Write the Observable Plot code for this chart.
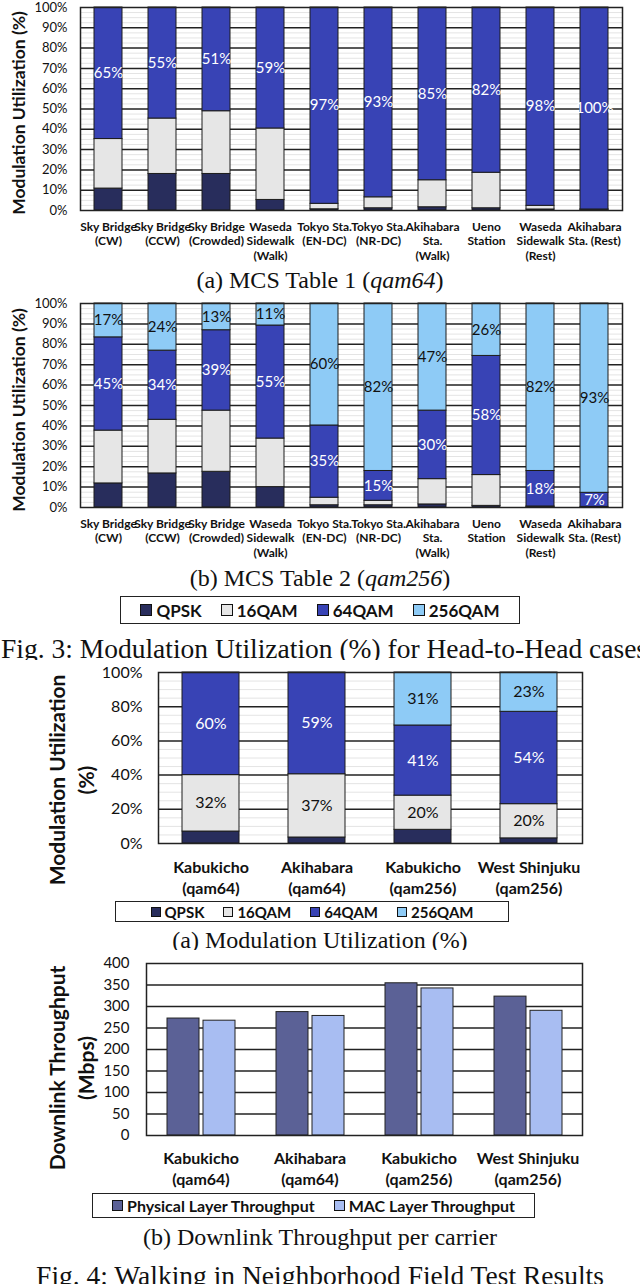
<!DOCTYPE html>
<html><head><meta charset="utf-8">
<script src="https://cdn.jsdelivr.net/npm/d3@7"></script>
<script src="https://cdn.jsdelivr.net/npm/@observablehq/plot@0.6"></script>
<style>
body{margin:0;background:#fff;}
#page{position:relative;width:640px;height:1284px;overflow:hidden;background:#fff;}
.cap{position:absolute;left:0;width:640px;text-align:center;font-family:"Liberation Serif","Times New Roman",serif;font-size:24px;line-height:24px;white-space:nowrap;color:#111;}
.fig{font-size:27.5px;line-height:27.5px;}
.ylab{position:absolute;font-family:Lato,sans-serif;font-weight:bold;color:#111;white-space:nowrap;text-align:center;transform:translate(-50%,-50%) rotate(-90deg);}
.legend{position:absolute;border:1.5px solid #222;display:flex;align-items:center;justify-content:center;font-family:Lato,sans-serif;font-weight:bold;box-sizing:border-box;color:#111;background:#fff;}
.legend .item{display:flex;align-items:center;}
.legend .sw{border:1px solid #111;box-sizing:border-box;margin-right:4px;}
</style></head>
<body><div id="page"></div>
<script>
// ---------- data ----------
const mods = ["QPSK", "16QAM", "64QAM", "256QAM"];
const modColors = ["#282d5c", "#e6e6e6", "#3843b5", "#8ecbf6"];

const sites = ["Sky Bridge\n(CW)", "Sky Bridge\n(CCW)", "Sky Bridge\n(Crowded)", "Waseda\nSidewalk\n(Walk)",
  "Tokyo Sta.\n(EN-DC)", "Tokyo Sta.\n(NR-DC)", "Akihabara\nSta.\n(Walk)", "Ueno\nStation",
  "Waseda\nSidewalk\n(Rest)", "Akihabara\nSta. (Rest)"];

// (a) MCS Table 1 (qam64)
const t1QPSK  = [10.8, 18, 18, 5.2, 0.6, 1.1, 1.6, 1.1, 0.5, 0.4];
const t1QAM16 = [24.4, 27.3, 30.9, 35.2, 2.7, 5.4, 13.3, 17.5, 1.8, 0.1];
const t1QAM64 = [64.8, 54.7, 51.1, 59.6, 96.7, 93.5, 85.1, 81.4, 97.7, 99.5];
const t1Label64 = ["65%", "55%", "51%", "59%", "97%", "93%", "85%", "82%", "98%", "100%"];

// (b) MCS Table 2 (qam256)
const t2QPSK   = [11.8, 16.7, 17.5, 10, 1.1, 1.1, 1.5, 0.8, 0.3, 0.3];
const t2QAM16  = [25.9, 26.3, 30, 23.8, 3.7, 2.2, 12.4, 15.1, 0.2, 0];
const t2QAM64  = [45.7, 33.9, 39.4, 55.4, 35.4, 14.6, 33.6, 58.4, 17.4, 6.9];
const t2QAM256 = [16.6, 23.1, 13.1, 10.8, 59.8, 82.1, 52.5, 25.7, 82.1, 92.8];
const t2Label64  = ["45%", "34%", "39%", "55%", "35%", "15%", "30%", "58%", "18%", "7%"];
const t2Label256 = ["17%", "24%", "13%", "11%", "60%", "82%", "47%", "26%", "82%", "93%"];

// Fig. 4 walking
const walkSites = ["Kabukicho\n(qam64)", "Akihabara\n(qam64)", "Kabukicho\n(qam256)", "West Shinjuku\n(qam256)"];
const wQPSK   = [7, 3.5, 8, 3];
const wQAM16  = [33, 37, 20, 20];
const wQAM64  = [60, 59.5, 41, 54];
const wQAM256 = [0, 0, 31, 23];
const wLabel16  = ["32%", "37%", "20%", "20%"];
const wLabel64  = ["60%", "59%", "41%", "54%"];
const wLabel256 = [null, null, "31%", "23%"];

const tputSeries = ["Physical Layer Throughput", "MAC Layer Throughput"];
const tputColors = ["#5b6196", "#a8bdf2"];
const physTput = [272, 287, 354, 323];
const macTput  = [267, 278, 342, 290];

// ---------- helpers ----------
const page = document.getElementById("page");
function place(el, top) { el.style.position = "absolute"; el.style.left = "0px"; el.style.top = top + "px"; page.appendChild(el); }
function div(cls, html, css) { const d = document.createElement("div"); d.className = cls; d.innerHTML = html; Object.assign(d.style, css); page.appendChild(d); return d; }

function buildRows(cats, seriesList) {
  const rows = [];
  cats.forEach((c, i) => seriesList.forEach(s => rows.push({site: c, mod: s.mod, value: s.values[i], label: s.labels ? s.labels[i] : null})));
  return rows;
}

function stacked(o) {
  const majors = d3.range(o.step, 100, o.step);
  const minors = d3.range(0, 100.001, o.minor).filter(v => Math.abs(v / o.step - Math.round(v / o.step)) > 1e-6);
  return Plot.plot({
    width: 640, height: o.height,
    marginTop: o.mt, marginBottom: o.mb, marginLeft: o.ml, marginRight: o.mr,
    style: {fontFamily: "Lato, sans-serif", background: "white", overflow: "visible", color: "#111"},
    x: {domain: o.cats, paddingInner: o.pi, paddingOuter: o.pi / 2},
    y: {domain: [0, 100]},
    color: {domain: mods, range: modColors},
    marks: [
      Plot.ruleY(minors, {stroke: "#e4e4e4", strokeWidth: 1}),
      Plot.ruleY(majors, {stroke: "#222", strokeWidth: 1.5}),
      Plot.barY(o.rows, {x: "site", y: "value", fill: "mod", stroke: "#1c1c1c", strokeWidth: 1}),
      Plot.text(o.rows, Plot.stackY({x: "site", y: "value", z: "mod", text: d => d.mod === "64QAM" ? d.label : null, fill: "white", fontSize: o.labelFont})),
      Plot.text(o.rows, Plot.stackY({x: "site", y: "value", z: "mod", text: d => d.mod !== "64QAM" ? d.label : null, fill: "#111", fontSize: o.labelFont})),
      Plot.frame({stroke: "#222", strokeWidth: 1.5}),
      Plot.axisY(d3.range(0, 100.001, o.tick), {tickSize: 0, tickPadding: o.yPad, fontSize: o.tickFont, tickFormat: d => d + "%", label: null}),
      Plot.axisX({tickSize: 0, tickPadding: o.catPad, fontSize: o.catFont, fontWeight: "bold", lineHeight: o.catLH, label: null})
    ]
  });
}

function legend(items, css, font, sw) {
  const d = div("legend", "", css);
  d.style.fontSize = font + "px";
  items.forEach((it, i) => {
    const item = document.createElement("div");
    item.className = "item";
    if (i > 0) item.style.marginLeft = css.gapPx;
    const s = document.createElement("div");
    s.className = "sw"; s.style.width = sw + "px"; s.style.height = sw + "px"; s.style.background = it.color;
    const t = document.createElement("span"); t.textContent = it.name;
    item.appendChild(s); item.appendChild(t); d.appendChild(item);
  });
  return d;
}

// ---------- chart (a) ----------
const rows1 = buildRows(sites, [
  {mod: "QPSK", values: t1QPSK}, {mod: "16QAM", values: t1QAM16}, {mod: "64QAM", values: t1QAM64, labels: t1Label64}
]);
place(stacked({cats: sites, rows: rows1, height: 268, mt: 7, mb: 58, ml: 80, mr: 18, pi: 0.48, step: 10, minor: 2.5, tick: 10,
  tickFont: 13, yPad: 13, catFont: 12, catPad: 10, catLH: 1.2, labelFont: 15}), 0);
div("ylab", "Modulation Utilization (%)", {left: "18px", top: "113px", fontSize: "17.5px"});
div("cap", "(a) MCS Table 1 (<i>qam64</i>)", {top: "268px"});

// ---------- chart (b) ----------
const rows2 = buildRows(sites, [
  {mod: "QPSK", values: t2QPSK}, {mod: "16QAM", values: t2QAM16},
  {mod: "64QAM", values: t2QAM64, labels: t2Label64}, {mod: "256QAM", values: t2QAM256, labels: t2Label256}
]);
place(stacked({cats: sites, rows: rows2, height: 268, mt: 7, mb: 57, ml: 80, mr: 18, pi: 0.48, step: 10, minor: 2.5, tick: 10,
  tickFont: 13, yPad: 13, catFont: 12, catPad: 10, catLH: 1.2, labelFont: 15}), 296);
div("ylab", "Modulation Utilization (%)", {left: "18px", top: "410px", fontSize: "17.5px"});
div("cap", "(b) MCS Table 2 (<i>qam256</i>)", {top: "566px"});

legend(mods.map((m, i) => ({name: m, color: modColors[i]})),
  {left: "120px", top: "596px", width: "400px", height: "28px", gapPx: "19px"}, 17, 12);

div("cap fig", "Fig. 3: Modulation Utilization (%) for Head-to-Head cases", {top: "635px", textAlign: "left", left: "1px", width: "700px"});

// ---------- Fig 4 (a) ----------
const rows3 = buildRows(walkSites, [
  {mod: "QPSK", values: wQPSK}, {mod: "16QAM", values: wQAM16, labels: wLabel16},
  {mod: "64QAM", values: wQAM64, labels: wLabel64}, {mod: "256QAM", values: wQAM256, labels: wLabel256}
]);
place(stacked({cats: walkSites, rows: rows3, height: 238, mt: 12, mb: 55, ml: 158, mr: 58, pi: 0.46, step: 20, minor: 5, tick: 20,
  tickFont: 16, yPad: 16, catFont: 16, catPad: 15, catLH: 1.3, labelFont: 16}), 660);
div("ylab", "Modulation Utilization<br>(%)", {left: "71px", top: "780px", fontSize: "21px", lineHeight: "29px"});
legend(mods.map((m, i) => ({name: m, color: modColors[i]})),
  {left: "115px", top: "901px", width: "394px", height: "21px", gapPx: "19px"}, 15, 10);
div("cap", "(a) Modulation Utilization (%)", {top: "928px"});

// ---------- Fig 4 (b) ----------
const tput = walkSites.map((s, i) => ({site: s, phys: physTput[i], mac: macTput[i]}));
const tputPlot = Plot.plot({
  width: 640, height: 240, marginTop: 13, marginBottom: 55, marginLeft: 146, marginRight: 58,
  style: {fontFamily: "Lato, sans-serif", background: "white", overflow: "visible", color: "#111"},
  x: {domain: walkSites, padding: 0},
  y: {domain: [0, 400]},
  marks: [
    Plot.ruleY(d3.range(50, 400, 50), {stroke: "#222", strokeWidth: 1.5}),
    Plot.barY(tput, {x: "site", y: "phys", fill: tputColors[0], stroke: "#222", strokeWidth: 1, insetLeft: 21, insetRight: 56}),
    Plot.barY(tput, {x: "site", y: "mac", fill: tputColors[1], stroke: "#222", strokeWidth: 1, insetLeft: 57, insetRight: 20}),
    Plot.frame({stroke: "#222", strokeWidth: 1.5}),
    Plot.axisY(d3.range(0, 401, 50), {tickSize: 0, tickPadding: 17, fontSize: 15, label: null}),
    Plot.axisX({tickSize: 0, tickPadding: 14, fontSize: 16, fontWeight: "bold", lineHeight: 1.3, label: null})
  ]
});
place(tputPlot, 950);
div("ylab", "Downlink Throughput<br>(Mbps)", {left: "71px", top: "1068px", fontSize: "21px", lineHeight: "29px"});
legend(tputSeries.map((m, i) => ({name: m, color: tputColors[i]})),
  {left: "92px", top: "1193px", width: "443px", height: "25px", gapPx: "19px"}, 16, 11);
div("cap", "(b) Downlink Throughput per carrier", {top: "1225px"});
div("cap fig", "Fig. 4: Walking in Neighborhood Field Test Results", {top: "1262px"});
</script>
</body></html>
